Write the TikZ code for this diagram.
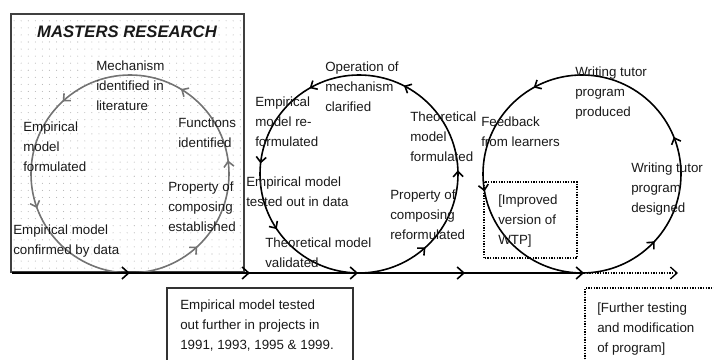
\documentclass[tikz,border=0pt]{standalone}
\usepackage{fontspec}
\setmainfont{Liberation Sans}
\usetikzlibrary{arrows.meta, positioning, decorations.markings, patterns.meta}

\begin{document}
\begin{tikzpicture}[
	x=0.75pt, y=0.75pt,
	MyText/.style={anchor=north west, align=left, inner sep=0pt,
		font=\fontsize{10}{15}\selectfont, text=black!90},
	MyCircle/.style={line width=1.2pt, draw=black},
	TipAt/.style={postaction={decorate, decoration={markings,
		mark=at position #1 with {\arrow{Straight Barb[length=4pt,width=7.5pt]}}}}},
	BigTipAt/.style={postaction={decorate, decoration={markings,
		mark=at position #1 with {\arrow{Straight Barb[length=5pt,width=9pt]}}}}},
	MainLine/.style={line width=1.2pt, -{Straight Barb[length=5pt,width=9pt]}},
	DotLine/.style={line width=1pt, dash pattern=on 1pt off 1pt}
	]

\useasboundingbox (0,0) rectangle (714,360);

\draw[line width=1pt, draw=black!75, pattern={Dots[distance=5.3pt,radius=0.4pt]},
	pattern color=black!30] (11,88) rectangle (244,346);
\draw[line width=0.9pt, draw=black!80] (167,-10) rectangle (353,72);
\draw[DotLine] (484,102) rectangle (577,178);
\draw[DotLine] (585,-10) |- (720,72);

\coordinate (c1) at (130,186);
\coordinate (c2) at (359,186);
\coordinate (c3) at (582,186);
\coordinate (start) at (12,87);
\coordinate (foot) at (584,87);
\coordinate (end) at (678,87);

\draw[MyCircle, draw=black!55, TipAt/.list={0.022,0.164,0.369,0.556,0.869}]
	(c1) circle[radius=99];
\draw[MyCircle, TipAt/.list={0.006,0.175,0.333,0.483,0.594,0.867}]
	(c2) circle[radius=99];
\draw[MyCircle, TipAt/.list={0.061,0.331,0.528,0.881}]
	(c3) circle[radius=99];

\draw[MainLine, BigTipAt/.list={0.206,0.416,0.605,0.792}] (start) -- (foot);
\draw[DotLine, -{Straight Barb[length=5pt,width=9pt]}] (foot) -- (end);

\node[font=\fontsize{12.5}{15}\selectfont\bfseries\itshape, text=black!90]
	(title) at (127,328) {MASTERS RESEARCH};
\node[MyText] (mechLit) at (96,299) {Mechanism\\identified in\\literature};
\node[MyText] (empForm) at (23,238) {Empirical\\model\\formulated};
\node[MyText] (funcId) at (178,242) {Functions\\identified};
\node[MyText] (propEst) at (168,178) {Property of\\composing\\established};
\node[MyText] (empConf) at (13,135) {Empirical model\\confirmed by data};

\node[MyText] (opMech) at (325,298) {Operation of\\mechanism\\clarified};
\node[MyText] (empReform) at (255,263) {Empirical\\model re-\\formulated};
\node[MyText] (theoForm) at (410,248) {Theoretical\\model\\formulated};
\node[MyText] (empTest) at (246,183) {Empirical model\\tested out in data};
\node[MyText] (propReform) at (390,170) {Property of\\composing\\reformulated};
\node[MyText] (theoVal) at (265,122) {Theoretical model\\validated};

\node[MyText] (wtpProd) at (575,293) {Writing tutor\\program\\produced};
\node[MyText] (feedback) at (481,243) {Feedback\\from learners};
\node[MyText] (wtpDes) at (631,197) {Writing tutor\\program\\designed};
\node[MyText] (improved) at (498,165) {[Improved\\version of\\WTP]};

\node[MyText] (projects) at (180,60) {Empirical model tested\\out further in projects in\\1991, 1993, 1995 \& 1999.};
\node[MyText] (further) at (597,57) {[Further testing\\and modification\\of program]};

\end{tikzpicture}
\end{document}
